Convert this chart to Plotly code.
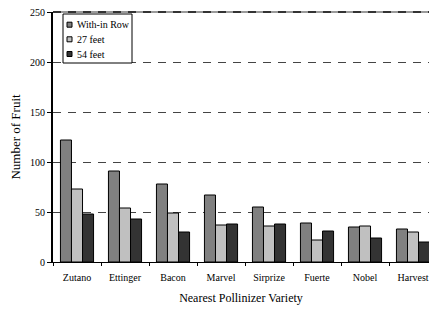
import plotly.graph_objects as go

categories = ["Zutano", "Ettinger", "Bacon", "Marvel", "Sirprize", "Fuerte", "Nobel", "Harvest"]
within_row = [122, 91, 78, 67, 55, 39, 35, 33]
feet_27 = [73, 54, 49, 37, 36, 22, 36, 30]
feet_54 = [48, 43, 30, 38, 38, 31, 24, 20]
series_names = ["With-in Row", "27 feet", "54 feet"]
colors = ["#808080", "#c0c0c0", "#333333"]

W, H = 429, 309
ML, MR, MT, MB = 53, 0, 12, 47
PW, PH = W - ML - MR, H - MT - MB

def px_x(x):
    return (x - ML) / PW

def px_y(y):
    return (H - MB - y) / PH

fig = go.Figure()
for name, vals, c in zip(series_names, [within_row, feet_27, feet_54], colors):
    fig.add_trace(go.Bar(x=categories, y=vals, name=name, showlegend=False,
                         marker=dict(color=c, line=dict(color="black", width=1))))

font = "Liberation Serif, Times New Roman, serif"

# top border line (solid grey with dark dashes)
fig.add_shape(type="line", xref="paper", yref="paper", x0=0, x1=1, y0=1, y1=1,
              line=dict(color="#9a9a9a", width=2), layer="above")
fig.add_shape(type="line", xref="paper", yref="paper", x0=0, x1=1, y0=1, y1=1,
              line=dict(color="#333333", width=2, dash="8px,7px"), layer="above")

# legend box (drawn)
fig.add_shape(type="rect", xref="paper", yref="paper",
              x0=px_x(63), x1=px_x(132), y0=px_y(63), y1=px_y(14),
              line=dict(color="black", width=1), fillcolor="white", layer="above")
centers = [24.7, 39.3, 54.0]
for name, c, cy in zip(series_names, colors, centers):
    fig.add_shape(type="rect", xref="paper", yref="paper",
                  x0=px_x(67), x1=px_x(72), y0=px_y(cy + 2.5), y1=px_y(cy - 2.5),
                  line=dict(color="black", width=1), fillcolor=c, layer="above")
    fig.add_annotation(xref="paper", yref="paper", x=px_x(75), y=px_y(cy),
                       xanchor="left", yanchor="middle", showarrow=False,
                       text=name, font=dict(size=10, family=font, color="black"))

fig.update_layout(
    width=W, height=H,
    margin=dict(l=ML, r=MR, t=MT, b=MB),
    paper_bgcolor="white", plot_bgcolor="white",
    barmode="group", bargap=0.31, bargroupgap=0,
    font=dict(family=font, size=10, color="black"),
    showlegend=False,
    xaxis=dict(range=[-0.5, 7.333], showline=True, linecolor="black", linewidth=1,
               ticks="outside", ticklen=3, tickcolor="black", tickson="boundaries",
               automargin=False, ticklabelstandoff=6, ticklabeloverflow="allow",
               title=dict(text="Nearest Pollinizer Variety", font=dict(size=12), standoff=11),
               tickfont=dict(size=10)),
    yaxis=dict(range=[0, 250], tickvals=[0, 50, 100, 150, 200, 250],
               showline=True, linecolor="black", linewidth=2,
               ticks="outside", ticklen=4, tickcolor="black",
               showgrid=True, gridcolor="#444444", griddash="8px,7px", gridwidth=1,
               zeroline=False, automargin=False, ticklabeloverflow="allow",
               title=dict(text="Number of Fruit", font=dict(size=13), standoff=6),
               tickfont=dict(size=10)),
)
fig.write_html("out.html", config={"displayModeBar": False},
               post_script="document.body.style.margin='0';")
